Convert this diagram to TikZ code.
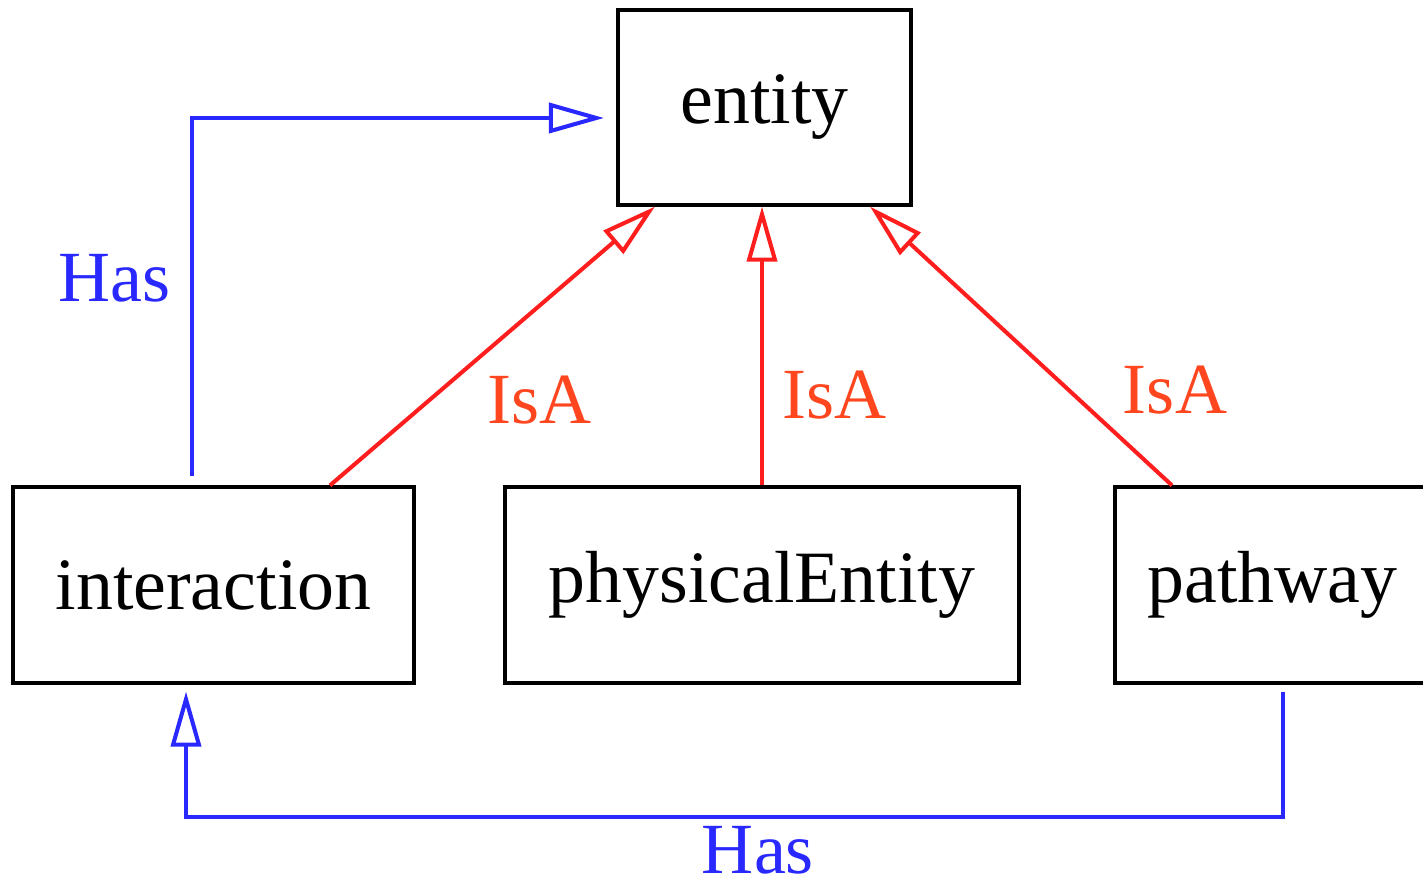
\documentclass[tikz,border=0pt]{standalone}
\usepackage{fontspec}
\setmainfont{Liberation Serif}
\usetikzlibrary{arrows.meta}
\definecolor{hasblue}{RGB}{40,40,255}
\definecolor{isared}{RGB}{255,30,30}
\definecolor{isatext}{RGB}{255,70,30}
\begin{document}
\begin{tikzpicture}[
  box/.style={draw,line width=1.8pt,inner sep=0pt,
    font=\fontsize{42}{48}\selectfont},
  isa/.style={draw=isared,line width=2.3pt,
    -{Triangle[open,length=1.1cm,width=0.6cm]}},
  has/.style={draw=hasblue,line width=2.3pt,
    -{Triangle[open,length=1.1cm,width=0.6cm]}},
  isalabel/.style={text=isatext,inner sep=0pt,font=\fontsize{41}{48}\selectfont},
  haslabel/.style={text=hasblue,inner sep=0pt,font=\fontsize{41}{48}\selectfont}]
  \useasboundingbox (0,0) rectangle (28.46,17.68);
  \node[box,minimum width=5.86cm,minimum height=3.9cm] (entity) at (15.29,15.53) {entity};
  \node[box,minimum width=8.02cm,minimum height=3.92cm] (interaction) at (4.27,5.98) {interaction};
  \node[box,minimum width=10.28cm,minimum height=3.92cm] (physicalEntity) at (15.24,5.98) {physicalEntity};
  \node[box,minimum width=6.3cm,minimum height=3.92cm] (pathway) at (25.45,5.98) {pathway};
  % IsA edges
  \draw[isa] ([xshift=2.33cm]interaction.north) -- ([xshift=-2.19cm]entity.south);
  \draw[isa] (physicalEntity.north) -- (physicalEntity.north |- entity.south);
  \draw[isa] ([xshift=-2.01cm]pathway.north) -- ([xshift=2.11cm]entity.south);
  \path (10.8,9.68) node[isalabel] {IsA};
  \path (16.7,9.78) node[isalabel] {IsA};
  \path (23.5,9.88) node[isalabel] {IsA};
  % Has edges
  \draw[has,shorten >=0.25cm,shorten <=0.18cm] ([xshift=-0.43cm]interaction.north) |- ([yshift=-0.21cm]entity.west);
  \path (2.3,12.12) node[haslabel] {Has};
  \coordinate (hasY) at (0,1.34);
  \coordinate (pwOut) at ([xshift=0.21cm]pathway.south);
  \coordinate (inIn) at ([xshift=-0.55cm]interaction.south);
  \draw[has,shorten >=0.14cm,shorten <=0.14cm] (pwOut) -- (pwOut |- hasY) -| (inIn);
  \path (15.16,0.68) node[haslabel] {Has};
\end{tikzpicture}
\end{document}
